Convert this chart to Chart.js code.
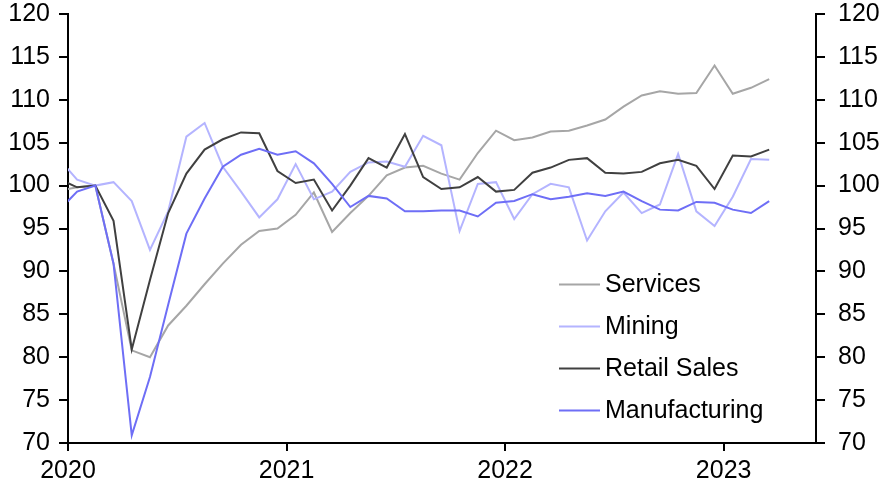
<!DOCTYPE html>
<html>
<head>
<meta charset="utf-8">
<script src="https://cdn.jsdelivr.net/npm/chart.js@4"></script>
<style>
html,body{margin:0;padding:0;background:#fff;}
#wrap{width:882px;height:495px;position:relative;}
</style>
</head>
<body>
<div id="wrap"><canvas id="c" width="882" height="495"></canvas></div>
<script>
const months = ['2019-12','2020-01','2020-02','2020-03','2020-04','2020-05','2020-06','2020-07','2020-08','2020-09','2020-10','2020-11','2020-12',
'2021-01','2021-02','2021-03','2021-04','2021-05','2021-06','2021-07','2021-08','2021-09','2021-10','2021-11','2021-12',
'2022-01','2022-02','2022-03','2022-04','2022-05','2022-06','2022-07','2022-08','2022-09','2022-10','2022-11','2022-12',
'2023-01','2023-02','2023-03'];
const services = [99.4,99.8,100.0,90.9,80.8,80.0,83.7,86.0,88.5,90.9,93.1,94.7,95.0,96.6,99.2,94.6,96.8,98.8,101.2,102.1,102.3,101.4,100.7,103.8,106.4,105.3,105.6,106.3,106.4,107.0,107.7,109.2,110.5,111.0,110.7,110.8,114.0,110.7,111.4,112.4];
const mining = [103.1,100.7,100.0,100.4,98.2,92.5,97.0,105.7,107.3,102.2,99.3,96.3,98.4,102.5,98.4,99.3,101.6,102.7,102.8,102.2,105.8,104.7,94.7,100.2,100.4,96.1,99.0,100.2,99.8,93.6,97.0,99.2,96.8,97.8,103.7,97.0,95.3,98.7,103.1,103.0];
const retail = [100.8,99.8,100.0,95.9,80.9,89.0,96.8,101.4,104.2,105.4,106.2,106.1,101.7,100.3,100.7,97.1,100.0,103.2,102.1,106.0,101.0,99.6,99.8,101.0,99.3,99.5,101.5,102.1,103.0,103.2,101.5,101.4,101.6,102.6,103.0,102.3,99.6,103.5,103.4,104.2];
const manufacturing = [97.1,99.3,100.0,90.9,70.9,77.7,86.1,94.4,98.5,102.2,103.6,104.3,103.6,104.0,102.6,100.2,97.5,98.8,98.5,97.0,97.0,97.1,97.1,96.4,98.0,98.2,99.0,98.4,98.7,99.1,98.8,99.3,98.2,97.2,97.1,98.1,98.0,97.2,96.8,98.2];
const seriesNames = ['Services','Mining','Retail Sales','Manufacturing'];
const yearTicks = [2020,2021,2022,2023];
const yTicks = [70,75,80,85,90,95,100,105,110,115,120];

const FONT = "'Liberation Sans', Arial, sans-serif";
const FS = 25;
const colors = ['#a6a6a6','#b4b4ff','#404040','#6e6ef6'];
const allSeries = [services, mining, retail, manufacturing];

function monthPos(m){ const [y,mo]=m.split('-').map(Number); return (y-2020)*12 + (mo-1) + 0.5; }
function toPoints(arr){ return arr.map((v,i)=>({x:monthPos(months[i]), y:v})); }

const datasets = allSeries.map((arr,k)=>({
  label: seriesNames[k],
  data: toPoints(arr),
  borderColor: colors[k],
  backgroundColor: colors[k],
  borderWidth: 2,
  pointRadius: 0,
  tension: 0,
  yAxisID: 'y',
  order: 3-k
}));

const legendPlugin = {
  id:'customLegend',
  afterDraw(chart){
    const ctx = chart.ctx;
    ctx.save();
    ctx.font = FS + 'px ' + FONT;
    ctx.textBaseline = 'middle';
    ctx.fillStyle = '#000';
    const ys = [284.5, 326.5, 368.5, 410.5];
    chart.data.datasets.forEach((ds,i)=>{
      ctx.strokeStyle = ds.borderColor;
      ctx.lineWidth = 2;
      ctx.beginPath();
      ctx.moveTo(559, ys[i]);
      ctx.lineTo(600, ys[i]);
      ctx.stroke();
      ctx.fillText(ds.label, 605, ys[i]+1);
    });
    ctx.restore();
  }
};

const yAxisCommon = {
  type:'linear', min:70, max:120,
  afterBuildTicks(s){ s.ticks = yTicks.map(v=>({value:v})); },
  grid:{ drawOnChartArea:false, drawTicks:true, tickLength:9, color:'#000', lineWidth:2 },
  border:{ display:true, color:'#000', width:2 },
  ticks:{ color:'#000', font:{ family:FONT, size:FS }, padding:9 }
};

new Chart(document.getElementById('c'), {
  type:'line',
  data:{ datasets },
  plugins:[legendPlugin],
  options:{
    responsive:false,
    animation:false,
    layout:{ padding:{ top:14, left:0, right:0, bottom:0 } },
    plugins:{ legend:{display:false}, tooltip:{enabled:false} },
    scales:{
      x:{
        type:'linear', min:0, max:41.07,
        afterBuildTicks(s){ s.ticks = yearTicks.map(y=>({value:(y-2020)*12})); },
        afterFit(s){ s.height = 52; s.paddingLeft = 0; s.paddingRight = 0; },
        grid:{ drawOnChartArea:false, drawTicks:true, tickLength:8, color:'#000', lineWidth:2 },
        border:{ display:true, color:'#000', width:2 },
        ticks:{ color:'#000', font:{family:FONT, size:FS}, padding:5, labelOffset:0, maxRotation:0,
          callback:(v)=>String(2020 + Math.round(v/12)) }
      },
      y:Object.assign({}, yAxisCommon, { position:'left', afterFit(s){ s.width = 68; s.paddingTop = 0; s.paddingBottom = 0; } }),
      y2:Object.assign({}, yAxisCommon, { position:'right', afterFit(s){ s.width = 66; s.paddingTop = 0; s.paddingBottom = 0; },
        ticks:{ color:'#000', font:{ family:FONT, size:FS }, padding:13 } })
    }
  }
});
</script>
</body>
</html>
